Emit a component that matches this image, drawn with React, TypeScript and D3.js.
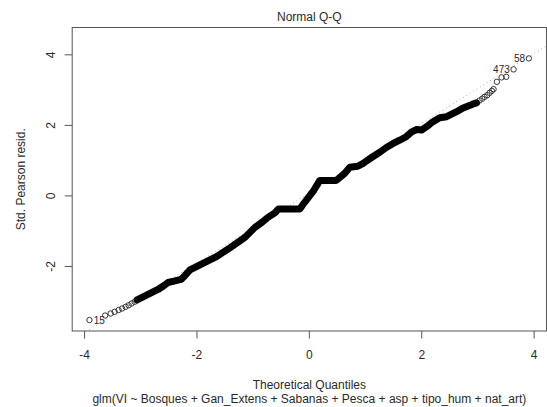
import React from "react";
import * as d3 from "d3";

// ---- data ----
// sparse lower tail points (theoretical quantile, std. Pearson residual)
const tailLowX = [-3.913, -3.634, -3.536, -3.465, -3.394, -3.332, -3.269, -3.216, -3.163, -3.109];
const tailLowY = [-3.519, -3.391, -3.334, -3.286, -3.235, -3.192, -3.144, -3.099, -3.05, -3.002];

// dense central band of points (traced along its centre)
const bandX = [
  -3.065, -2.923, -2.799, -2.692, -2.585, -2.514, -2.39, -2.283, -2.212, -2.123,
  -1.999, -1.892, -1.768, -1.644, -1.537, -1.413, -1.324, -1.235, -1.146, -1.057,
  -0.968, -0.844, -0.737, -0.613, -0.551, -0.169, -0.098, -0.009, 0.08, 0.187,
  0.48, 0.631, 0.72, 0.862, 0.951, 1.022, 1.128, 1.253, 1.377, 1.484,
  1.608, 1.724, 1.821, 1.91, 1.999, 2.088, 2.194, 2.319, 2.443, 2.514,
  2.621, 2.727, 2.816, 2.905, 2.976,
];
const bandY = [
  -2.951, -2.837, -2.738, -2.653, -2.539, -2.454, -2.411, -2.369, -2.255, -2.099,
  -1.999, -1.914, -1.815, -1.715, -1.602, -1.474, -1.375, -1.275, -1.176, -1.034,
  -0.892, -0.75, -0.608, -0.48, -0.37, -0.37, -0.21, -0.026, 0.159, 0.44,
  0.44, 0.642, 0.812, 0.841, 0.917, 0.997, 1.11, 1.238, 1.38, 1.48,
  1.579, 1.678, 1.815, 1.883, 1.87, 1.963, 2.099, 2.218, 2.247, 2.303,
  2.389, 2.488, 2.545, 2.602, 2.638,
];

// sparse upper tail points
const tailHighX = [3.029, 3.077, 3.118, 3.166, 3.207, 3.248, 3.278, 3.337, 3.42, 3.504, 3.634, 3.906];
const tailHighY = [2.707, 2.758, 2.809, 2.857, 2.922, 2.979, 3.028, 3.235, 3.36, 3.377, 3.587, 3.899];

// identified observations
const idLabels = ["15", "473", "58"];
const idX = [-3.913, 3.634, 3.906];
const idY = [-3.519, 3.587, 3.899];

// reference (qqline) intercept and slope
const lineIntercept = 0.08;
const lineSlope = 0.99;

const xTicks = [-4, -2, 0, 2, 4];
const yTicks = [-2, 0, 2, 4];
const xDomain = [-4.22, 4.22];
const yDomain = [-3.83, 4.775];

const title = "Normal Q-Q";
const xTitle = "Theoretical Quantiles";
const yTitle = "Std. Pearson resid.";
const subCaption = "glm(VI ~ Bosques + Gan_Extens + Sabanas + Pesca + asp + tipo_hum + nat_art)";

export default function App() {
  const W = 547;
  const H = 407;
  const left = 72.2;
  const right = 546.5;
  const top = 27.5;
  const bottom = 331;

  const x = d3.scaleLinear().domain(xDomain).range([left, right]);
  const y = d3.scaleLinear().domain(yDomain).range([bottom, top]);

  const font = "'Liberation Sans', Arial, Helvetica, sans-serif";
  const axisCol = "#555";
  const textCol = "#2a2a2a";

  const bandPts: [number, number][] = bandX.map((v, i) => [v, bandY[i]]);
  const bandPath = d3
    .line<[number, number]>()
    .x((d) => x(d[0]))
    .y((d) => y(d[1]))(bandPts) as string;

  const tails = [
    ...tailLowX.map((v, i) => [v, tailLowY[i]]),
    ...tailHighX.map((v, i) => [v, tailHighY[i]]),
  ];

  const lx0 = xDomain[0];
  const lx1 = xDomain[1];

  return (
    <svg
      width={W}
      height={H}
      style={{ position: "absolute", left: 0, top: 0, background: "#fff" }}
      fontFamily={font}
    >
      <defs>
        <clipPath id="plotClip">
          <rect x={left} y={top} width={right - left} height={bottom - top} />
        </clipPath>
      </defs>

      {/* title */}
      <text x={(left + right) / 2} y={20.5} textAnchor="middle" fontSize={12} fill={textCol}>
        {title}
      </text>

      {/* reference line */}
      <line
        clipPath="url(#plotClip)"
        x1={x(lx0)}
        y1={y(lineIntercept + lineSlope * lx0)}
        x2={x(lx1)}
        y2={y(lineIntercept + lineSlope * lx1)}
        stroke="#aaa"
        strokeWidth={1}
        strokeDasharray="1,3"
      />

      {/* dense band */}
      <path
        d={bandPath}
        fill="none"
        stroke="#000"
        strokeWidth={7}
        strokeLinejoin="round"
        strokeLinecap="round"
      />

      {/* sparse points */}
      {tails.map((p, i) => (
        <circle key={i} cx={x(p[0])} cy={y(p[1])} r={2.7} fill="none" stroke="#222" strokeWidth={0.9} />
      ))}

      {/* id labels */}
      {idLabels.map((lab, i) => {
        const onLeft = idX[i] < 0;
        return (
          <text
            key={lab}
            x={x(idX[i]) + (onLeft ? 4.2 : -3.8)}
            y={y(idY[i]) + 3.5}
            textAnchor={onLeft ? "start" : "end"}
            fontSize={10}
            fill={textCol}
          >
            {lab}
          </text>
        );
      })}

      {/* box */}
      <rect
        x={left}
        y={top}
        width={right - left}
        height={bottom - top}
        fill="none"
        stroke={axisCol}
        strokeWidth={1}
      />

      {/* x axis */}
      {xTicks.map((t) => (
        <g key={"x" + t}>
          <line x1={x(t)} x2={x(t)} y1={bottom} y2={bottom + 7.5} stroke={axisCol} strokeWidth={1} />
          <text x={x(t)} y={359.3} textAnchor="middle" fontSize={12} fill={textCol}>
            {t}
          </text>
        </g>
      ))}

      {/* y axis */}
      {yTicks.map((t) => (
        <g key={"y" + t}>
          <line x1={left - 7.5} x2={left} y1={y(t)} y2={y(t)} stroke={axisCol} strokeWidth={1} />
          <text
            transform={`translate(54.5,${y(t)}) rotate(-90)`}
            textAnchor="middle"
            fontSize={12}
            fill={textCol}
          >
            {t}
          </text>
        </g>
      ))}

      {/* axis titles */}
      <text x={(left + right) / 2} y={388.5} textAnchor="middle" fontSize={12} fill={textCol}>
        {xTitle}
      </text>
      <text x={(left + right) / 2} y={402.5} textAnchor="middle" fontSize={12} fill={textCol}>
        {subCaption}
      </text>
      <text
        transform={`translate(25,${(top + bottom) / 2}) rotate(-90)`}
        textAnchor="middle"
        fontSize={12}
        fill={textCol}
      >
        {yTitle}
      </text>
    </svg>
  );
}
